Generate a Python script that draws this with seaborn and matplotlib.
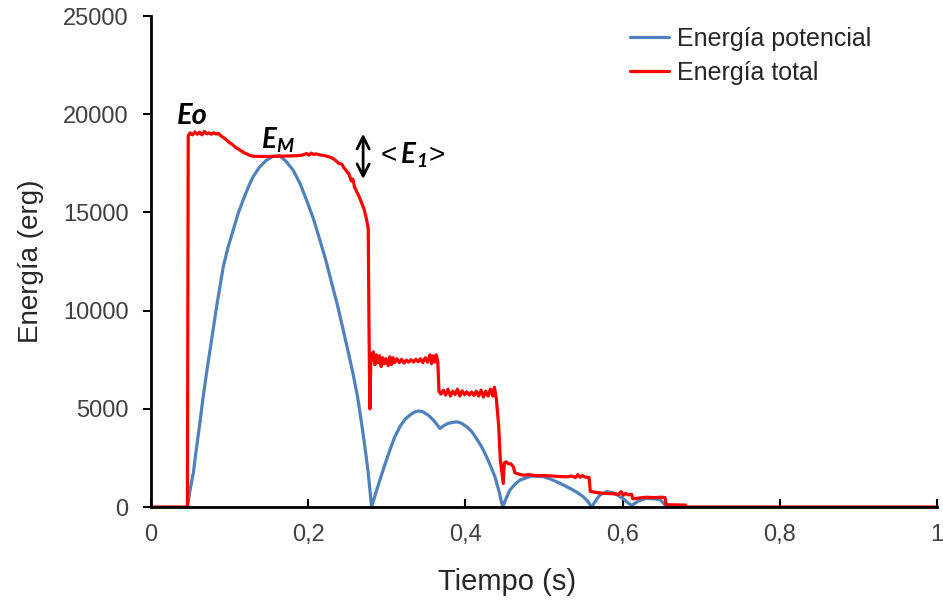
import numpy as np
import pandas as pd
import matplotlib
matplotlib.use("Agg")
import matplotlib.pyplot as plt
import seaborn as sns

# ---- data ----
t_total = [0.000, 0.0465, 0.0475, 0.050, 0.053, 0.056, 0.059, 0.062, 0.065, 0.068, 0.071, 0.074,
           0.077, 0.080, 0.083, 0.086, 0.089, 0.092, 0.096, 0.100, 0.104, 0.108, 0.113, 0.118,
           0.122, 0.126, 0.130, 0.140, 0.150, 0.160, 0.170, 0.180, 0.190, 0.195, 0.198, 0.201,
           0.204, 0.207, 0.210, 0.215, 0.220, 0.225, 0.230, 0.235, 0.239, 0.243, 0.246, 0.249,
           0.252, 0.255, 0.257, 0.259, 0.262, 0.265, 0.268, 0.271, 0.274, 0.2765, 0.2775, 0.2786,
           0.2800, 0.2815, 0.283, 0.285, 0.287, 0.289, 0.291, 0.293, 0.295, 0.297, 0.299, 0.302,
           0.304, 0.306, 0.308, 0.310, 0.313, 0.316, 0.319, 0.322, 0.325, 0.328, 0.331, 0.334,
           0.337, 0.340, 0.343, 0.346, 0.349, 0.352, 0.355, 0.357, 0.359, 0.361, 0.363, 0.365,
           0.3665, 0.369, 0.372, 0.375, 0.378, 0.381, 0.384, 0.387, 0.390, 0.393, 0.396, 0.399,
           0.402, 0.405, 0.408, 0.411, 0.414, 0.417, 0.420, 0.423, 0.426, 0.429, 0.432, 0.435,
           0.437, 0.4395, 0.4425, 0.4445, 0.4483, 0.4495, 0.452, 0.455, 0.458, 0.461, 0.463, 0.466,
           0.470, 0.475, 0.480, 0.490, 0.500, 0.510, 0.520, 0.530, 0.535, 0.540, 0.543, 0.546,
           0.549, 0.552, 0.5575, 0.5590, 0.565, 0.575, 0.585, 0.595, 0.598, 0.601, 0.604, 0.607,
           0.6115, 0.6130, 0.620, 0.630, 0.640, 0.650, 0.654, 0.6555, 0.665, 0.680, 0.6815, 1.000]
e_total = [0, 0, 18900, 19050, 18950, 19100, 18980, 19080, 18950, 19120, 19000, 19050,
           18980, 19060, 18990, 19020, 18900, 18820, 18700, 18550, 18450, 18300, 18180, 18050,
           17980, 17900, 17860, 17850, 17850, 17860, 17870, 17880, 17900, 17950, 18000, 17920,
           18020, 17950, 17980, 17930, 17900, 17850, 17780, 17650, 17500, 17450, 17250, 17100,
           16950, 16600, 16700, 16300, 16050, 15800, 15500, 15200, 14700, 14200, 9000, 5000,
           7800, 7500, 7900, 7250, 7750, 7350, 7700, 7150, 7600, 7300, 7550, 7200,
           7650, 7250, 7600, 7350, 7550, 7350, 7520, 7330, 7480, 7380, 7500, 7380,
           7520, 7400, 7550, 7350, 7600, 7380, 7750, 7300, 7700, 7380, 7750, 7400,
           5900, 5750, 5950, 5700, 6000, 5650, 5900, 5730, 6000, 5650, 5920, 5720,
           5870, 5700, 5850, 5680, 5900, 5650, 5950, 5600, 5900, 5650, 6000, 5650,
           6100, 5500, 4100, 2400, 1200, 2250, 2300, 2200, 2200, 2050, 1750, 1700,
           1650, 1620, 1650, 1600, 1600, 1580, 1550, 1540, 1580, 1500, 1650, 1520,
           1600, 1530, 1500, 800, 750, 700, 680, 650, 780, 600, 700, 620,
           650, 420, 450, 500, 480, 500, 480, 120, 110, 100, 0, 0]

t_pot = [0.0465, 0.050, 0.054, 0.058, 0.0623, 0.0665, 0.0708, 0.0772, 0.0835, 0.092, 0.098,
         0.1047, 0.111, 0.1174, 0.124, 0.130, 0.138, 0.147, 0.155, 0.164, 0.172, 0.181, 0.190,
         0.198, 0.207, 0.215, 0.223, 0.230, 0.2375, 0.2447, 0.251, 0.257, 0.263, 0.268, 0.2725,
         0.2765, 0.2808, 0.286, 0.2913, 0.298, 0.304, 0.310, 0.3168, 0.323, 0.3295, 0.335, 0.340,
         0.346, 0.3528, 0.360, 0.3677, 0.373, 0.378, 0.389, 0.395, 0.4016, 0.408, 0.414, 0.421,
         0.427, 0.432, 0.4377, 0.443, 0.4475, 0.452, 0.4567, 0.463, 0.4695, 0.4843, 0.4992, 0.508,
         0.516, 0.525, 0.533, 0.542, 0.550, 0.556, 0.5607, 0.566, 0.571, 0.580, 0.590, 0.600,
         0.6065, 0.6115, 0.620, 0.630, 0.640, 0.6476, 0.652, 0.656]
e_pot = [0, 900, 1730, 3000, 4275, 5600, 6820, 8500, 10180, 12216, 13200,
         14100, 14950, 15630, 16300, 16810, 17300, 17660, 17850, 17880, 17600, 17150, 16450,
         15630, 14650, 13590, 12500, 11400, 10250, 9010, 7900, 6820, 5600, 4275, 3000,
         1730, 0, 700, 1375, 2200, 2900, 3550, 4090, 4450, 4680, 4830, 4890,
         4850, 4680, 4400, 4000, 4150, 4260, 4340, 4270, 4090, 3850, 3500, 3050,
         2560, 2100, 1545, 780, 0, 450, 865, 1150, 1375, 1580, 1545, 1430,
         1290, 1120, 950, 750, 525, 280, 0, 330, 610, 780, 700, 450,
         230, 80, 300, 440, 420, 380, 200, 0]

x_ticks = [0, 0.2, 0.4, 0.6, 0.8, 1.0]
x_ticklabels = ["0", "0,2", "0,4", "0,6", "0,8", "1"]
y_ticks = [0, 5000, 10000, 15000, 20000, 25000]

label_pot = "Energía potencial"
label_tot = "Energía total"

df_pot = pd.DataFrame({"t": t_pot, "E": e_pot})
df_tot = pd.DataFrame({"t": t_total, "E": e_total})

# ---- style ----
sns.set_style("white")
plt.rcParams["font.family"] = ["Liberation Sans", "DejaVu Sans"]
plt.rcParams["mathtext.fontset"] = "custom"
plt.rcParams["mathtext.bf"] = "Lato:bold:italic"
plt.rcParams["mathtext.rm"] = "Liberation Sans"
plt.rcParams["mathtext.it"] = "Lato:italic"

fig = plt.figure(figsize=(9.43, 6.07), dpi=100)
ax = fig.add_axes([0.160, 0.1647, 0.8336, 0.8089])

blue = "#4F81BD"
red = "#FF0000"
sns.lineplot(data=df_pot, x="t", y="E", ax=ax, color=blue, lw=2.3, sort=False,
             estimator=None, label=label_pot)
sns.lineplot(data=df_tot, x="t", y="E", ax=ax, color=red, lw=2.3, sort=False,
             estimator=None, label=label_tot)

ax.set_xlim(0, 1)
ax.set_ylim(0, 25000)
ax.set_xticks(x_ticks)
ax.set_xticklabels(x_ticklabels)
ax.set_yticks(y_ticks)
ax.set_yticklabels([str(v) for v in y_ticks])

txtcol = "#404040"
ax.tick_params(axis="y", direction="out", length=6, width=1.5, pad=10,
               labelsize=17, colors="black", labelcolor=txtcol, left=True)
ax.tick_params(axis="x", direction="in", length=6, width=1.5, pad=12,
               labelsize=17, colors="black", labelcolor=txtcol, bottom=True)

for s in ["top", "right"]:
    ax.spines[s].set_visible(False)
for s in ["left", "bottom"]:
    ax.spines[s].set_color("black")
    ax.spines[s].set_linewidth(2)

ax.set_xlabel("Tiempo (s)", fontsize=21, color="#262626")
ax.xaxis.set_label_coords(0.453, -0.125)
ax.set_ylabel("Energía (erg)", fontsize=20, color="#262626", labelpad=14)

leg = ax.legend(loc="upper left", bbox_to_anchor=(0.597, 0.998), borderaxespad=0,
                frameon=False, fontsize=18, handlelength=1.55, handletextpad=0.32,
                labelspacing=0.38)
for txt in leg.get_texts():
    txt.set_color("#262626")

# annotations
ax.text(0.033, 19900, "Eo", fontsize=21, family="Lato", weight="bold", style="italic",
        ha="left", va="center", color="black")
ax.text(0.14, 18650, r"$\mathbf{E_M}$", fontsize=20, ha="left", va="center", color="black")
ax.text(0.287, 17900, r"$<\mathbf{E_1}$>", fontsize=20, ha="left", va="center", color="black")
ax.annotate("", xy=(0.27, 16550), xytext=(0.27, 19150),
            arrowprops=dict(arrowstyle="<->", lw=2, color="black", mutation_scale=22))

fig.savefig("out.png", dpi=100)
